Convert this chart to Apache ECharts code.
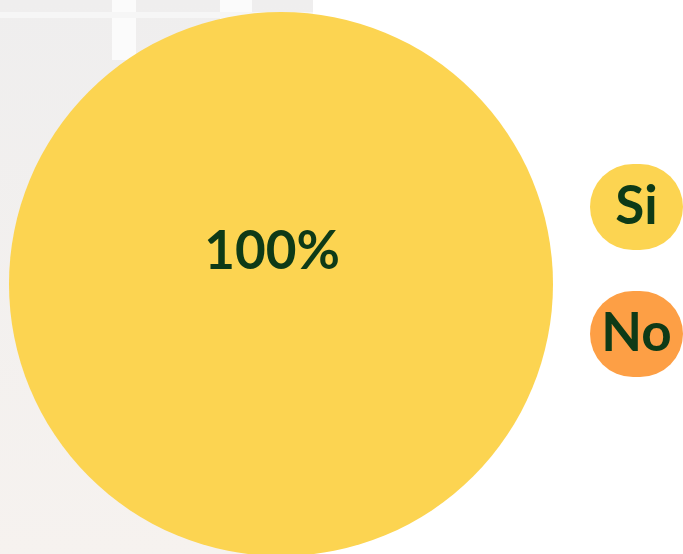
<!DOCTYPE html>
<html>
<head>
<meta charset="utf-8">
<script src="https://cdn.jsdelivr.net/npm/echarts@6/dist/echarts.min.js"></script>
<style>
  html, body { margin: 0; padding: 0; background: #fff; }
</style>
</head>
<body>
<div id="container" style="width: 683px; height: 554px;"></div>
<script>
    // data
    var categories = ['Si', 'No'];
    var values = [100, 0];
    var colors = ['#fcd451', '#fd9f45'];

    var myChart = echarts.init(document.getElementById('container'));

    var textColor = '#0e3a17';
    var font = 'Lato';

    var seriesData = categories.map(function (name, i) {
        return {
            name: name,
            value: values[i],
            itemStyle: {color: colors[i]},
            label: {show: values[i] > 0}
        };
    });

    var option = {
        animation: false,
        backgroundColor: '#ffffff',
        // faded photo behind the pie
        graphic: [
            {
                type: 'rect', z: -10, silent: true,
                shape: {x: 0, y: 0, width: 313, height: 554},
                style: {
                    fill: new echarts.graphic.LinearGradient(0, 0, 0, 1, [
                        {offset: 0, color: '#efeeee'},
                        {offset: 1, color: '#f6f2ef'}
                    ])
                }
            },
            {type: 'rect', z: -9, silent: true, shape: {x: 112, y: 0, width: 24, height: 60}, style: {fill: '#fbfbfb'}},
            {type: 'rect', z: -9, silent: true, shape: {x: 220, y: 0, width: 32, height: 40}, style: {fill: '#fbfbfb'}},
            {type: 'rect', z: -9, silent: true, shape: {x: 0, y: 12, width: 313, height: 6}, style: {fill: '#f6f6f6'}}
        ],
        tooltip: {show: false},
        legend: {
            orient: 'vertical',
            right: 0,
            top: 164,
            padding: 0,
            itemGap: 41,
            itemWidth: 0,
            itemHeight: 0,
            selectedMode: false,
            data: categories,
            formatter: function (name) {
                return '{' + (name === 'Si' ? 'si' : 'no') + '|' + name + '}';
            },
            textStyle: {
                rich: {
                    si: {
                        width: 93, height: 86, lineHeight: 86, align: 'center',
                        backgroundColor: colors[0], borderRadius: 43,
                        color: textColor, fontFamily: font, fontWeight: 'bold', fontSize: 53
                    },
                    no: {
                        width: 93, height: 86, lineHeight: 86, align: 'center',
                        backgroundColor: colors[1], borderRadius: 43,
                        color: textColor, fontFamily: font, fontWeight: 'bold', fontSize: 53
                    }
                }
            }
        },
        series: [
            {
                name: 'Respuesta',
                type: 'pie',
                center: [281, 284],
                radius: 272,
                startAngle: 90,
                emphasis: {disabled: true},
                label: {
                    position: 'center',
                    formatter: '{d}%',
                    offset: [-9, -32],
                    color: textColor,
                    fontFamily: font,
                    fontWeight: 'bold',
                    fontSize: 53
                },
                labelLine: {show: false},
                data: seriesData
            }
        ]
    };

    myChart.setOption(option);
</script>
</body>
</html>
